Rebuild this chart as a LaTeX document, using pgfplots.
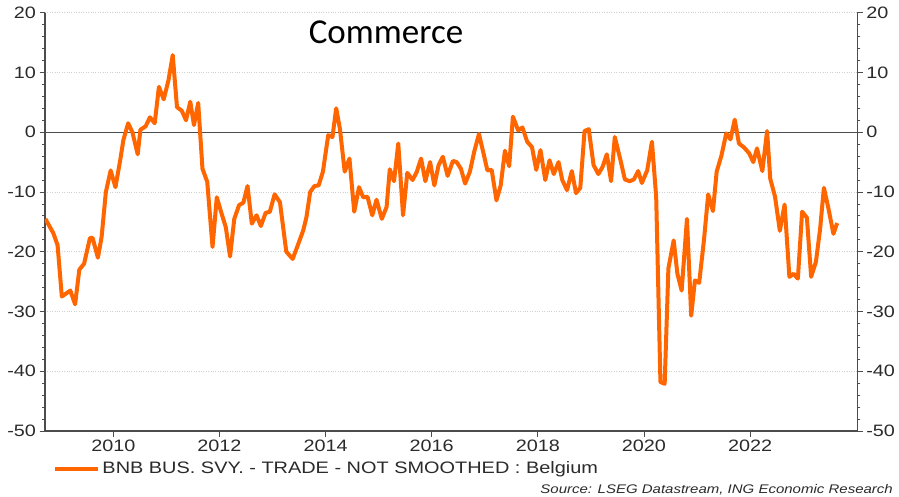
\documentclass[border=0pt]{standalone}
\usepackage{fontspec}
\setmainfont{Liberation Sans}[FakeStretch=1.2]
\newfontfamily\titlefont{Carlito}
\usepackage{pgfplots}
\usepackage{pgfplotstable}
\pgfplotsset{compat=1.18}
\definecolor{ingorange}{HTML}{FF6600}
\definecolor{txtgrey}{HTML}{2B2B2B}

\pgfplotstableread{
t v
2008.72 -14.5
2008.87 -16.9
2008.95 -18.9
2009.03 -27.5
2009.11 -27.0
2009.19 -26.5
2009.28 -28.8
2009.36 -23.0
2009.45 -22.0
2009.56 -17.7
2009.61 -17.7
2009.71 -21.0
2009.78 -17.5
2009.86 -10.0
2009.95 -6.4
2010.04 -9.2
2010.13 -4.7
2010.19 -1.3
2010.28 1.5
2010.36 0.0
2010.46 -3.7
2010.51 0.4
2010.61 1.0
2010.69 2.5
2010.78 1.5
2010.86 7.6
2010.95 5.5
2011.04 8.7
2011.12 12.9
2011.20 4.2
2011.29 3.6
2011.37 2.0
2011.45 5.1
2011.52 1.2
2011.60 4.9
2011.68 -6.1
2011.77 -8.3
2011.87 -19.2
2011.95 -10.9
2012.04 -13.6
2012.12 -15.9
2012.20 -20.8
2012.28 -14.5
2012.37 -12.2
2012.45 -11.8
2012.53 -9.0
2012.61 -15.3
2012.70 -13.9
2012.78 -15.7
2012.87 -13.5
2012.95 -13.3
2013.04 -10.4
2013.14 -11.7
2013.26 -20.0
2013.38 -21.2
2013.49 -18.6
2013.58 -16.4
2013.64 -14.2
2013.71 -10.0
2013.79 -9.0
2013.87 -8.9
2013.95 -6.6
2014.05 -0.5
2014.13 -0.8
2014.20 4.0
2014.27 0.6
2014.36 -6.6
2014.45 -4.4
2014.54 -13.3
2014.63 -9.2
2014.71 -10.9
2014.79 -10.8
2014.88 -13.9
2014.96 -11.3
2015.06 -14.5
2015.15 -12.5
2015.21 -6.2
2015.29 -8.2
2015.37 -1.9
2015.46 -13.9
2015.54 -6.8
2015.64 -8.0
2015.72 -6.6
2015.80 -4.4
2015.88 -8.2
2015.97 -5.0
2016.05 -8.9
2016.13 -5.5
2016.21 -4.1
2016.30 -7.3
2016.40 -4.8
2016.47 -5.0
2016.55 -6.1
2016.63 -8.6
2016.72 -6.6
2016.80 -3.3
2016.89 -0.3
2016.97 -3.3
2017.05 -6.4
2017.13 -6.3
2017.22 -11.4
2017.30 -8.9
2017.38 -3.1
2017.46 -5.7
2017.53 2.6
2017.63 0.3
2017.71 0.8
2017.80 -1.6
2017.89 -2.5
2017.97 -6.3
2018.05 -3.0
2018.14 -8.0
2018.22 -4.7
2018.30 -7.0
2018.39 -5.0
2018.46 -8.0
2018.55 -9.7
2018.64 -6.5
2018.72 -10.2
2018.80 -9.3
2018.88 0.2
2018.96 0.5
2019.05 -5.5
2019.14 -7.0
2019.22 -5.8
2019.30 -3.7
2019.38 -8.2
2019.45 -0.8
2019.55 -4.4
2019.64 -7.9
2019.73 -8.2
2019.81 -7.9
2019.89 -6.5
2019.96 -8.5
2020.06 -6.4
2020.15 -1.6
2020.23 -10.8
2020.31 -41.8
2020.39 -42.1
2020.46 -22.8
2020.56 -18.1
2020.63 -23.7
2020.71 -26.5
2020.81 -14.5
2020.89 -30.7
2020.96 -24.8
2021.04 -25.2
2021.13 -18.1
2021.21 -10.4
2021.30 -13.2
2021.37 -6.6
2021.46 -3.9
2021.55 -0.2
2021.63 -1.2
2021.71 2.1
2021.79 -1.9
2021.88 -2.5
2021.98 -3.5
2022.06 -5.0
2022.13 -2.7
2022.23 -6.5
2022.32 0.2
2022.38 -7.8
2022.47 -10.8
2022.56 -16.5
2022.65 -12.1
2022.74 -24.2
2022.82 -23.7
2022.90 -24.5
2022.98 -13.3
2023.07 -14.3
2023.15 -24.2
2023.24 -21.7
2023.32 -16.1
2023.39 -9.3
2023.47 -12.5
2023.57 -17.0
2023.64 -15.2
}\datatable

\pgfplotsset{
  commonaxis/.style={
    at={(45pt,65pt)}, anchor=south west,
    scale only axis, width=812.3pt, height=418.3pt,
    xmin=2008.713, xmax=2024.02, ymin=-50, ymax=20,
    ytick={-50,-40,...,20}, yticklabels={-50,-40,-30,-20,-10,0,10,20},
    minor y tick num=4,
    tick align=outside,
    major tick length=5.5pt, minor tick length=3pt,
    tick style={black!70, line width=0.8pt},
    axis line style={draw=black!70, line width=1.2pt, -},
    ticklabel style={font=\fontsize{16.5}{18}\selectfont, text=txtgrey},
  }
}

\begin{document}
\begin{tikzpicture}
\useasboundingbox (0,0) rectangle (899pt,496pt);
\fill[white] (0,0) rectangle (899pt,496pt);
\begin{axis}[
  commonaxis,
  axis x line*=bottom, axis y line*=left,
  xtick={2010,2012,...,2022}, xticklabels={2010,2012,2014,2016,2018,2020,2022},
  minor x tick num=7,
  ymajorgrids, major grid style={dotted, black!18, line width=0.6pt},
  legend style={at={(axis description cs:0.0102,-0.09)}, anchor=west, draw=none, fill=none,
    font=\fontsize{16.6}{18}\selectfont, text=txtgrey, inner sep=0pt},
  legend cell align=left,
  legend image code/.code={\draw[ingorange, line width=4pt] (0pt,0pt) -- (43pt,0pt);},
]
\addplot[forget plot, black!70, line width=1pt] coordinates {(2008.713,0) (2024.02,0)};
\addplot[ingorange, line width=4pt, line join=round] table[x=t, y=v] {\datatable};
\addlegendentry{BNB BUS. SVY. - TRADE - NOT SMOOTHED : Belgium}
\end{axis}
\begin{axis}[
  commonaxis,
  axis x line=none, axis y line*=right,
]
\end{axis}
\node[font=\titlefont\fontsize{35}{40}\selectfont, anchor=base] at (386pt,452.7pt) {Commerce};
\node[anchor=base east, inner sep=0pt, font=\itshape\fontsize{12.5}{14}\selectfont, text=txtgrey] at (893pt,2.5pt) {Source: LSEG Datastream, ING Economic Research};
\end{tikzpicture}
\end{document}
